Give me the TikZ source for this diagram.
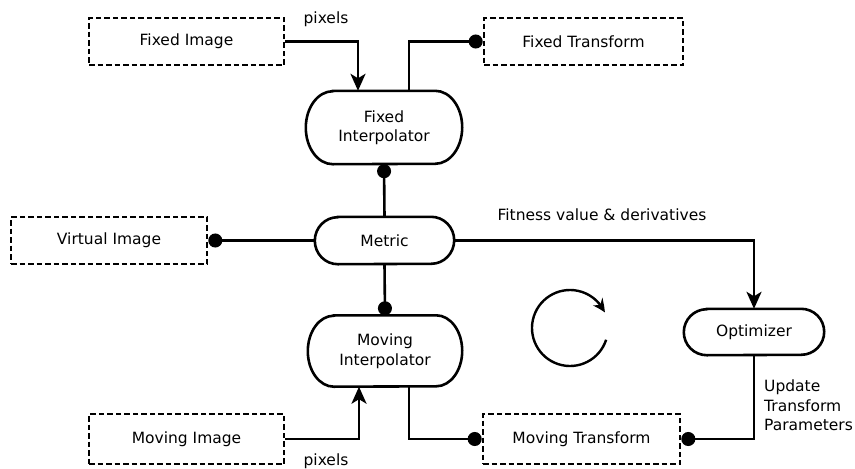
\documentclass[tikz,border=0pt]{standalone}
\usepackage{fontspec}
\setmainfont{DejaVu Sans}
\usetikzlibrary{arrows.meta,bending,calc}
\newcommand\capsule[7]{%
  \node[capnode, minimum width=#4pt, minimum height=#5pt] (#1) at (#2,#3) {#7};
  \draw[wire] ($(#1.north west)+(#6pt,0pt)$) -- ($(#1.north east)+(-#6pt,0pt)$)
    arc[start angle=90,end angle=-90,x radius=#6pt,y radius=#5pt/2]
    -- ($(#1.south west)+(#6pt,0pt)$)
    arc[start angle=270,end angle=90,x radius=#6pt,y radius=#5pt/2] -- cycle;}
\begin{document}
\begin{tikzpicture}[x=1pt,y=1pt,
  every node/.style={font=\fontsize{15.5}{19.5}\selectfont},
  capnode/.style={inner sep=0pt, align=center},
  dbox/.style={draw, line width=2.6pt, dash pattern=on 5.5pt off 3pt, inner sep=0pt},
  wire/.style={line width=2.6pt},
  arr/.style={wire, -{Stealth[length=17pt,width=15pt,inset=4.5pt]}},
  dot/.style={wire, -{Circle[length=14pt]}},
  lbl/.style={inner sep=0pt}
]
\useasboundingbox (0,0) rectangle (855,-469);

% dashed boxes
\node[dbox, minimum width=195pt, minimum height=47pt] (fimg) at (186.5,-41.5) {Fixed Image};
\node[dbox, minimum width=199pt, minimum height=47pt] (ftr) at (583.5,-41.5) {Fixed Transform};
\node[dbox, minimum width=196pt, minimum height=47pt] (vimg) at (109,-240.5) {Virtual Image};
\node[dbox, minimum width=195pt, minimum height=50pt] (mimg) at (186.5,-439) {Moving Image};
\node[dbox, minimum width=197pt, minimum height=50pt] (mtr) at (581.5,-439) {Moving Transform};

% capsules
\capsule{fi}{384}{-127.5}{156}{73}{27}{Fixed\\Interpolator}
\capsule{met}{384.5}{-240.5}{139}{47}{23}{Metric}
\capsule{mi}{385}{-351}{154}{71}{26}{Moving\\Interpolator}
\capsule{opt}{754}{-332}{140}{46}{23}{Optimizer}

% connectors
\draw[arr] (fimg.east) -| ([xshift=-26pt]fi.north);
\draw[dot] ([xshift=25pt]fi.north) |- (ftr.west);
\draw[dot] (met.north) -- (fi.south);
\draw[dot] (met.west) -- (vimg.east);
\draw[arr] (met.east) -| (opt.north);
\draw[dot] (met.south) -- (mi.north);
\draw[arr] (mimg.east) -| ([xshift=-26pt]mi.south);
\draw[dot] ([xshift=24pt]mi.south) |- (mtr.west);
\draw[dot] (opt.south) |- (mtr.east);

% labels
\node[lbl] (px1) at (326,-19) {pixels};
\node[lbl] (px2) at (326,-461) {pixels};
\node[lbl] (fit) at (602,-215) {Fitness value \& derivatives};
\node[lbl, anchor=west, align=left] (upd) at (764,-405.5) {Update\\Transform\\Parameters};

% loop arrow
\draw[line width=2.4pt, -{Stealth[length=13pt,width=12pt,bend]}]
  (570,-328) ++(-18:38pt) arc[start angle=-18, end angle=-336, radius=38pt];
\end{tikzpicture}
\end{document}
